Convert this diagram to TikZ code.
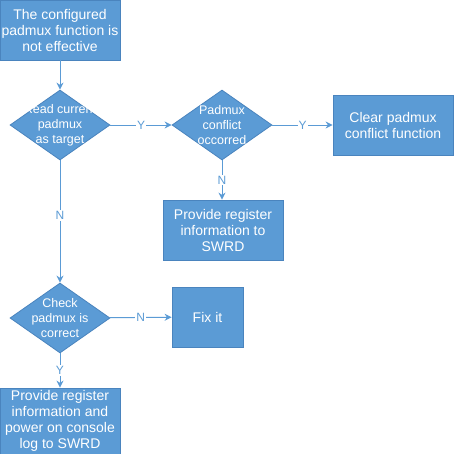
\documentclass[tikz,border=0pt]{standalone}
\usepackage{fontspec}
\setmainfont{Liberation Sans}
\usetikzlibrary{shapes.geometric,arrows.meta}
\definecolor{flowblue}{HTML}{5B9BD5}
\definecolor{flowedge}{HTML}{4A84BE}
\begin{document}
\begin{tikzpicture}[x=1pt,y=-1pt,
    box/.style={rectangle, draw=flowedge, fill=flowblue, line width=0.8pt,
      text=white, align=center, inner sep=0pt,
      font=\fontsize{14}{16}\selectfont},
    decision/.style={diamond, draw=flowedge, fill=flowblue, line width=0.8pt,
      inner sep=0pt, aspect=1.4286, minimum width=100pt, minimum height=70pt},
    dtext/.style={text=white, align=center, font=\fontsize{12.5}{15}\selectfont},
    flow/.style={draw=flowblue, line width=1pt, -{Stealth[length=7pt,width=7pt]}},
    yn/.style={fill=white, text=flowblue, inner sep=1pt, font=\fontsize{12}{14}\selectfont}]
  \useasboundingbox (0,0) rectangle (455,453);
  \node[box, minimum width=120pt, minimum height=60pt] (start) at (60,30)
    {The configured\\padmux function is\\not effective};
  \node[decision, label={[dtext]center:Read current\\padmux\\as target}] (read) at (60,125) {};
  \node[decision, label={[dtext]center:Padmux\\conflict\\occorred}] (conflict) at (222,125) {};
  \node[box, minimum width=120pt, minimum height=60pt] (clear) at (393,125)
    {Clear padmux\\conflict function};
  \node[box, minimum width=120pt, minimum height=60pt] (swrd) at (223,230)
    {Provide register\\information to\\SWRD};
  \node[decision, label={[dtext]center:Check\\padmux is\\correct}] (check) at (60,318) {};
  \node[box, minimum width=71pt, minimum height=60pt] (fix) at (207.5,317) {Fix it};
  \node[box, minimum width=120pt, minimum height=66pt] (log) at (60,421)
    {Provide register\\information and\\power on console\\log to SWRD};

  \draw[flow] (start) -- (read);
  \draw[flow] (read) -- node[yn] {Y} (conflict);
  \draw[flow] (conflict) -- node[yn] {Y} (clear);
  \draw[flow] (conflict) -- node[yn] {N} (conflict |- swrd.north);
  \draw[flow] (read) -- node[yn, pos=0.45] {N} (check);
  \draw[flow] (check) -- node[yn] {N} (fix);
  \draw[flow] (check) -- node[yn] {Y} (log);
\end{tikzpicture}
\end{document}
